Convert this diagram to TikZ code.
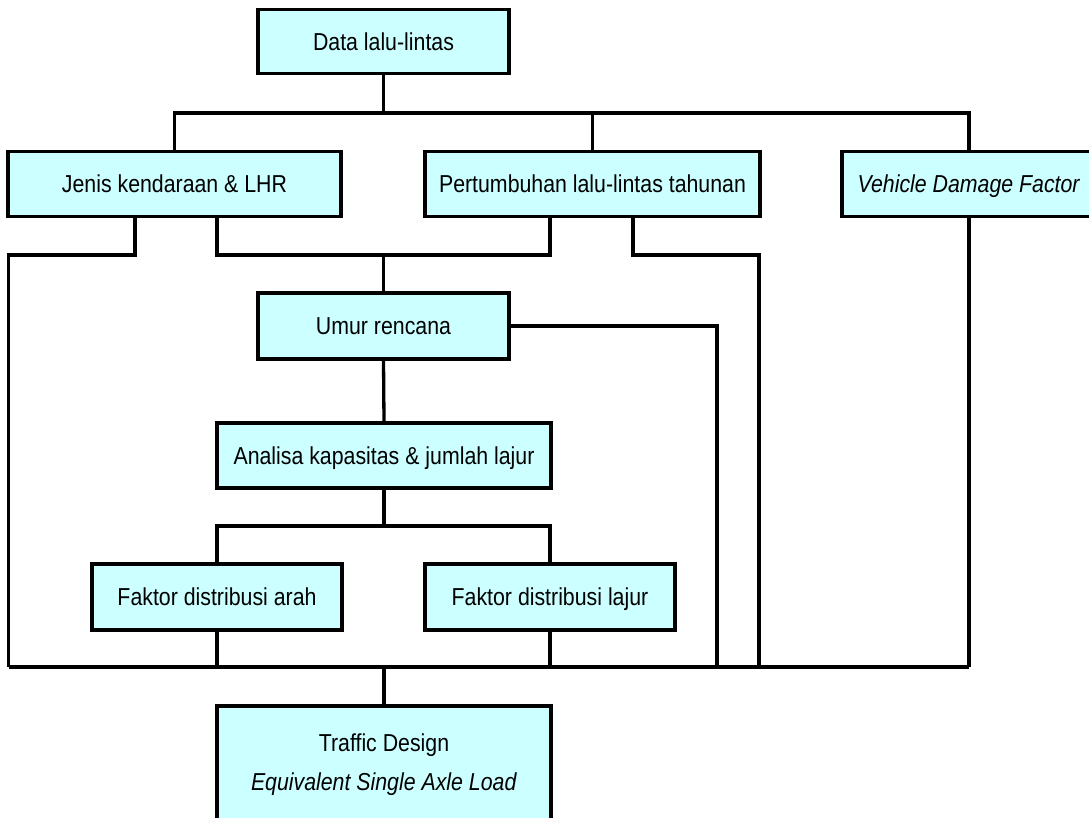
\documentclass[tikz,border=0pt]{standalone}
\usepackage{fontspec}
\setmainfont{Liberation Sans}[FakeStretch=0.87]
\usetikzlibrary{calc}
\definecolor{boxfill}{HTML}{CCFFFF}
\begin{document}
\begin{tikzpicture}[x=1pt,y=-1pt,
  box/.style={draw=black, line width=3.3pt, fill=boxfill, rectangle, inner sep=0pt,
    font={\fontsize{24.5}{39}\selectfont}, align=center},
  onebox/.style={box, text height=17.5pt, text depth=0pt},
  conn/.style={draw=black, line width=3.3pt}]
\useasboundingbox (0,0) rectangle (1089,818);
\fill[white] (0,0) rectangle (1089,818);
% nodes
\node[onebox, minimum width=251pt, minimum height=64pt] (top) at (383.5,41.5) {Data lalu-lintas};
\node[onebox, minimum width=333pt, minimum height=65pt] (jenis) at (174.5,184) {Jenis kendaraan \& LHR};
\node[onebox, minimum width=335pt, minimum height=65pt] (pert) at (592.5,184) {Pertumbuhan lalu-lintas tahunan};
\node[onebox, minimum width=254pt, minimum height=65pt] (vdf) at (969,184) {\textit{Vehicle Damage Factor}};
\node[onebox, minimum width=251pt, minimum height=66pt] (umur) at (383.5,326) {Umur rencana};
\node[onebox, minimum width=334pt, minimum height=65pt] (analisa) at (384,455.5) {Analisa kapasitas \& jumlah lajur};
\node[onebox, minimum width=250pt, minimum height=66pt] (arah) at (217,597) {Faktor distribusi arah};
\node[onebox, minimum width=250pt, minimum height=66pt] (lajur) at (550,597) {Faktor distribusi lajur};
\node[box, minimum width=334pt, minimum height=118pt] (traffic) at (384,765) {Traffic Design\\\textit{Equivalent Single Axle Load}};
% levels
\coordinate (L1) at (0,113);
\coordinate (L2) at (0,255);
\coordinate (L3) at (0,526);
\coordinate (L4) at (0,667);
\coordinate (xl) at (8.5,0);
\coordinate (xr1) at (717,0);
\coordinate (xr2) at (759,0);
\coordinate (jA) at ($(jenis.south)+(-39.5,0)$);
\coordinate (jB) at ($(jenis.south)+(42.5,0)$);
\coordinate (pA) at ($(pert.south)+(-42.5,0)$);
\coordinate (pB) at ($(pert.south)+(40.5,0)$);
% connectors
\draw[conn] (top.south) -- (top.south |- L1);
\draw[conn] (jenis.north) -- (jenis.north |- L1) -- (vdf.north |- L1) -- (vdf.north);
\draw[conn] (pert.north |- L1) -- (pert.north);
\draw[conn] (jA) -- (jA |- L2) -- (xl |- L2) -- (xl |- L4);
\draw[conn] (jB) -- (jB |- L2) -- (pA |- L2) -- (pA);
\draw[conn] (umur.north |- L2) -- (umur.north);
\draw[conn] (pB) -- (pB |- L2) -- (xr2 |- L2) -- (xr2 |- L4);
\draw[conn] (vdf.south) -- (vdf.south |- L4);
\draw[conn] (umur.east) -- (xr1 |- umur.east) -- (xr1 |- L4);
\draw[conn] (umur.south) -- (analisa.north);
\draw[conn] (analisa.south) -- (analisa.south |- L3);
\draw[conn] (arah.north) -- (arah.north |- L3) -- (lajur.north |- L3) -- (lajur.north);
\draw[conn] (arah.south) -- (arah.south |- L4);
\draw[conn] (lajur.south) -- (lajur.south |- L4);
\draw[conn] (xl |- L4) -- (vdf.south |- L4);
\draw[conn] (traffic.north |- L4) -- (traffic.north);
\end{tikzpicture}
\end{document}
